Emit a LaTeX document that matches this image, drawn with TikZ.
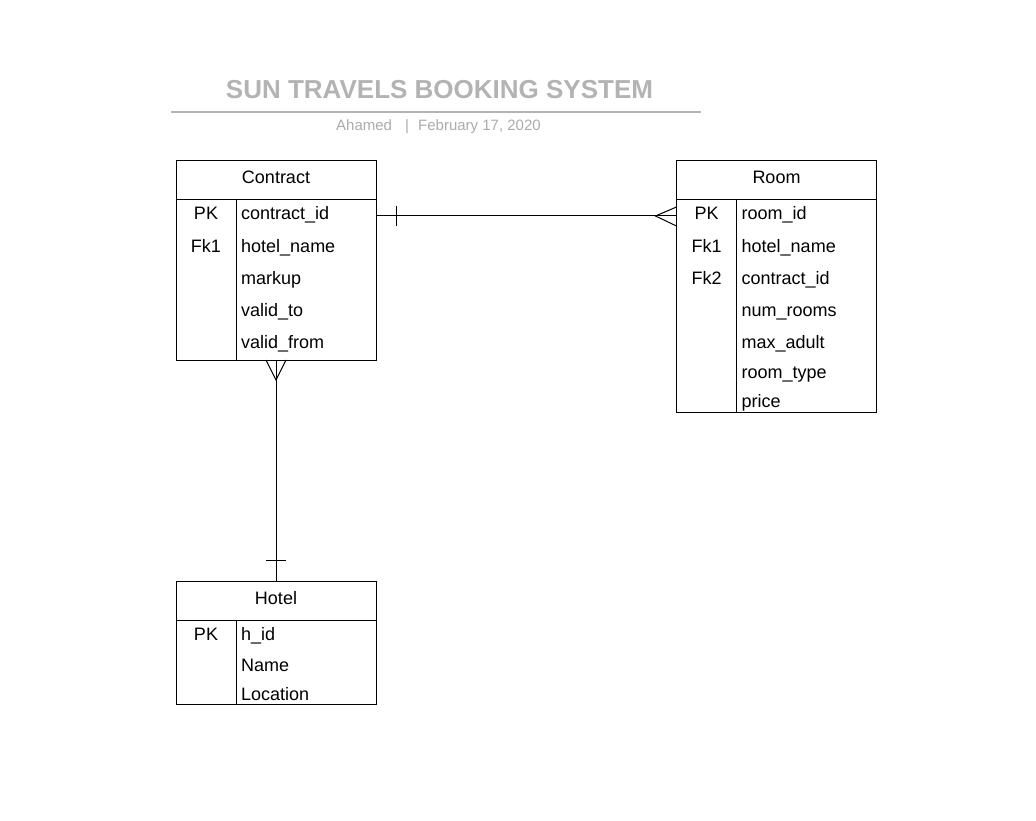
\documentclass[tikz,border=0pt]{standalone}
\usepackage{fontspec}
\setmainfont{Liberation Sans}
\definecolor{titlegray}{HTML}{B3B3B3}
\definecolor{subgray}{HTML}{ABABAB}
\begin{document}
\begin{tikzpicture}[x=1pt,y=-1pt,
  tbl/.style={draw, line width=1pt, inner sep=0pt, outer sep=0pt, minimum width=200pt, anchor=north west},
  ln/.style={line width=1pt},
  hdr/.style={anchor=base, inner sep=0pt, font=\fontsize{18}{20}\selectfont},
  keyt/.style={anchor=base, inner sep=0pt, font=\fontsize{18}{20}\selectfont},
  fld/.style={anchor=base west, inner sep=0pt, font=\fontsize{18}{20}\selectfont},
  sub/.style={anchor=base, inner sep=0pt, text=subgray, font=\fontsize{15}{18}\selectfont}]
\useasboundingbox (0,0) rectangle (1036,821);
% title
\node[anchor=base, inner sep=0pt, text=titlegray, font=\bfseries\fontsize{26}{30}\selectfont] (title) at (439.5,99) {SUN TRAVELS BOOKING SYSTEM};
\draw[titlegray, line width=2pt] (171,112) -- (701,112);
\node[sub, anchor=base west] (author) at (336,131) {Ahamed};
\node[sub] (sep) at (407,131) {|};
\node[sub, anchor=base west] (date) at (418,131) {February 17, 2020};
% Contract
\node[tbl, minimum height=199pt] (contract) at (176,161) {};
\draw[ln] ([yshift=-39pt]contract.north west) -- ([yshift=-39pt]contract.north east);
\draw[ln] ([xshift=60pt,yshift=-39pt]contract.north west) -- ([xshift=60pt]contract.south west);
\node[hdr] (contracth) at (276,184) {Contract};
\node[keyt] (ck1) at (206,220) {PK};
\node[keyt] (ck2) at (206,252) {Fk1};
\node[fld] (cf1) at (241,220) {contract\_id};
\node[fld] (cf2) at (241,252) {hotel\_name};
\node[fld] (cf3) at (241,284) {markup};
\node[fld] (cf4) at (241,316) {valid\_to};
\node[fld] (cf5) at (241,348) {valid\_from};
% Room
\node[tbl, minimum height=251pt] (room) at (676.5,161) {};
\draw[ln] ([yshift=-39pt]room.north west) -- ([yshift=-39pt]room.north east);
\draw[ln] ([xshift=60pt,yshift=-39pt]room.north west) -- ([xshift=60pt]room.south west);
\node[hdr] (roomh) at (776.5,184) {Room};
\node[keyt] (rk1) at (706.5,220) {PK};
\node[keyt] (rk2) at (706.5,252) {Fk1};
\node[keyt] (rk3) at (706.5,284) {Fk2};
\node[fld] (rf1) at (741.5,220) {room\_id};
\node[fld] (rf2) at (741.5,252) {hotel\_name};
\node[fld] (rf3) at (741.5,284) {contract\_id};
\node[fld] (rf4) at (741.5,316) {num\_rooms};
\node[fld] (rf5) at (741.5,348) {max\_adult};
\node[fld] (rf6) at (741.5,378) {room\_type};
\node[fld] (rf7) at (741.5,407) {price};
% Hotel
\node[tbl, minimum height=123pt] (hotel) at (176,581) {};
\draw[ln] ([yshift=-39pt]hotel.north west) -- ([yshift=-39pt]hotel.north east);
\draw[ln] ([xshift=60pt,yshift=-39pt]hotel.north west) -- ([xshift=60pt]hotel.south west);
\node[hdr] (hotelh) at (276,604) {Hotel};
\node[keyt] (hk1) at (206,640) {PK};
\node[fld] (hf1) at (241,640) {h\_id};
\node[fld] (hf2) at (241,671) {Name};
\node[fld] (hf3) at (241,700) {Location};
% Contract -- Room (one to many)
\draw[ln] ([yshift=-55pt]contract.north east) -- ([yshift=-55pt]room.north west);
\draw[ln] ([xshift=20pt,yshift=-45pt]contract.north east) -- ++(0,20);
\draw[ln] ([yshift=-46pt]room.north west) -- ++(-21,9) -- ++(21,10);
% Contract -- Hotel (many to one)
\draw[ln] (contract.south) -- (hotel.north);
\draw[ln] ([xshift=-10pt]contract.south) -- ++(10,20) -- ++(10,-20);
\draw[ln] ([xshift=-10pt,yshift=21pt]hotel.north) -- ++(20,0);
\end{tikzpicture}
\end{document}
